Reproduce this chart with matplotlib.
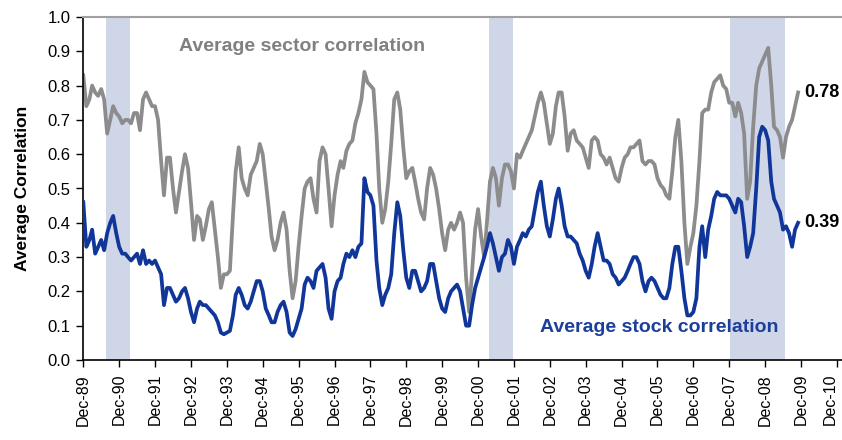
import numpy as np
import pandas as pd
import matplotlib
matplotlib.use("Agg")
import matplotlib.pyplot as plt
import matplotlib.transforms as mtransforms
from matplotlib.ticker import FormatStrFormatter

plt.rcParams['font.family'] = ['Liberation Sans', 'DejaVu Sans']

# monthly readings, Dec-89 .. Nov-09 (one row per year)
sector_corr = [
    0.83, 0.74, 0.76, 0.80, 0.78, 0.77, 0.79, 0.76, 0.66, 0.70, 0.74, 0.72,
    0.71, 0.69, 0.70, 0.70, 0.69, 0.72, 0.72, 0.67, 0.76, 0.78, 0.76, 0.74,
    0.74, 0.70, 0.58, 0.48, 0.59, 0.59, 0.50, 0.43, 0.49, 0.55, 0.60, 0.56,
    0.46, 0.35, 0.42, 0.41, 0.35, 0.39, 0.44, 0.46, 0.38, 0.30, 0.21, 0.25,
    0.25, 0.26, 0.42, 0.55, 0.62, 0.53, 0.50, 0.48, 0.54, 0.56, 0.58, 0.63,
    0.60, 0.52, 0.44, 0.36, 0.32, 0.35, 0.40, 0.43, 0.38, 0.26, 0.18, 0.23,
    0.33, 0.42, 0.50, 0.52, 0.53, 0.47, 0.43, 0.58, 0.62, 0.60, 0.50, 0.39,
    0.48, 0.54, 0.58, 0.56, 0.61, 0.63, 0.64, 0.69, 0.72, 0.76, 0.84, 0.81,
    0.80, 0.79, 0.66, 0.50, 0.40, 0.44, 0.52, 0.63, 0.76, 0.78, 0.73, 0.62,
    0.53, 0.55, 0.56, 0.52, 0.47, 0.43, 0.41, 0.50, 0.56, 0.54, 0.50, 0.44,
    0.37, 0.32, 0.38, 0.40, 0.38, 0.40, 0.43, 0.40, 0.24, 0.14, 0.26, 0.38,
    0.44, 0.36, 0.30, 0.40, 0.52, 0.56, 0.53, 0.45, 0.53, 0.57, 0.57, 0.55,
    0.50, 0.60, 0.59, 0.61, 0.63, 0.65, 0.67, 0.71, 0.75, 0.78, 0.75, 0.69,
    0.63, 0.66, 0.74, 0.78, 0.78, 0.71, 0.61, 0.66, 0.67, 0.64, 0.63, 0.62,
    0.59, 0.56, 0.64, 0.65, 0.64, 0.60, 0.59, 0.57, 0.59, 0.56, 0.53, 0.52,
    0.56, 0.59, 0.60, 0.62, 0.62, 0.63, 0.64, 0.58, 0.57, 0.58, 0.58, 0.57,
    0.53, 0.51, 0.50, 0.48, 0.47, 0.55, 0.65, 0.70, 0.58, 0.40, 0.28, 0.33,
    0.37, 0.45, 0.58, 0.72, 0.73, 0.73, 0.78, 0.81, 0.82, 0.83, 0.80, 0.79,
    0.75, 0.75, 0.71, 0.75, 0.72, 0.66, 0.47, 0.52, 0.68, 0.80, 0.85, 0.87,
    0.89, 0.91, 0.80, 0.68, 0.67, 0.65, 0.59, 0.65, 0.68, 0.70, 0.74, 0.78,
]

stock_corr = [
    0.46, 0.33, 0.35, 0.38, 0.31, 0.33, 0.35, 0.32, 0.37, 0.40, 0.42, 0.37,
    0.33, 0.31, 0.31, 0.30, 0.29, 0.30, 0.31, 0.28, 0.32, 0.28, 0.29, 0.28,
    0.29, 0.27, 0.25, 0.16, 0.21, 0.21, 0.19, 0.17, 0.18, 0.20, 0.21, 0.18,
    0.14, 0.11, 0.15, 0.17, 0.16, 0.16, 0.15, 0.14, 0.13, 0.11, 0.08, 0.075,
    0.08, 0.085, 0.13, 0.19, 0.21, 0.19, 0.16, 0.15, 0.17, 0.20, 0.23, 0.23,
    0.20, 0.15, 0.13, 0.11, 0.11, 0.14, 0.16, 0.17, 0.14, 0.08, 0.07, 0.09,
    0.12, 0.15, 0.22, 0.24, 0.23, 0.21, 0.26, 0.27, 0.28, 0.24, 0.15, 0.12,
    0.20, 0.23, 0.24, 0.28, 0.31, 0.30, 0.32, 0.30, 0.33, 0.34, 0.53, 0.49,
    0.48, 0.45, 0.29, 0.21, 0.16, 0.19, 0.21, 0.25, 0.37, 0.46, 0.42, 0.32,
    0.24, 0.21, 0.26, 0.26, 0.23, 0.20, 0.21, 0.23, 0.28, 0.28, 0.23, 0.18,
    0.15, 0.14, 0.18, 0.20, 0.21, 0.22, 0.20, 0.15, 0.10, 0.10, 0.16, 0.21,
    0.24, 0.27, 0.30, 0.33, 0.37, 0.34, 0.30, 0.26, 0.30, 0.31, 0.35, 0.33,
    0.28, 0.33, 0.35, 0.37, 0.36, 0.38, 0.39, 0.44, 0.49, 0.52, 0.45, 0.39,
    0.36, 0.41, 0.47, 0.50, 0.45, 0.39, 0.36, 0.36, 0.35, 0.34, 0.31, 0.29,
    0.26, 0.24, 0.28, 0.33, 0.37, 0.33, 0.29, 0.29, 0.28, 0.25, 0.24, 0.22,
    0.23, 0.24, 0.26, 0.28, 0.30, 0.30, 0.28, 0.23, 0.20, 0.23, 0.24, 0.23,
    0.21, 0.19, 0.18, 0.18, 0.21, 0.28, 0.33, 0.33, 0.26, 0.18, 0.13, 0.13,
    0.14, 0.18, 0.33, 0.39, 0.30, 0.38, 0.42, 0.47, 0.49, 0.48, 0.48, 0.48,
    0.47, 0.45, 0.43, 0.47, 0.46, 0.39, 0.30, 0.33, 0.37, 0.50, 0.65, 0.68,
    0.67, 0.64, 0.52, 0.47, 0.45, 0.43, 0.38, 0.39, 0.37, 0.33, 0.38, 0.40,
]

recessions = [("1990-07-20", "1991-03-20"),
              ("2001-03-22", "2001-11-18"),
              ("2007-12-10", "2009-06-20")]

tick_years = list(range(1989, 2011))
end_labels = ["0.78", "0.39"]

dates = pd.date_range("1989-12-01", periods=len(sector_corr), freq="MS")

gray = "#8c8c8c"
blue = "#10369a"

fig = plt.figure(figsize=(8.42, 4.40), dpi=100)
ax = fig.add_axes([83.3 / 842, 1 - 360 / 440, (842 - 83.3) / 842, (360 - 17) / 440])

for a, b in recessions:
    ax.axvspan(pd.Timestamp(a), pd.Timestamp(b), color="#cfd6e8", lw=0, zorder=0)

ax.plot(dates, sector_corr, color=gray, lw=2.7, zorder=2)
ax.plot(dates, stock_corr, color=blue, lw=2.7, zorder=3)

ax.set_ylim(0, 1.0)
ax.set_xlim(pd.Timestamp("1989-12-01"), pd.Timestamp("2011-01-22"))
ax.set_yticks(np.arange(0, 1.01, 0.1))
ax.yaxis.set_major_formatter(FormatStrFormatter("%.1f"))

ticks = [pd.Timestamp(f"{y}-12-01") for y in tick_years]
ax.set_xticks(ticks)
ax.set_xticklabels([f"Dec-{y % 100:02d}" for y in tick_years], rotation=90)

ax.tick_params(axis="both", direction="out", length=5, width=1, labelsize=12, colors="black")
ax.tick_params(axis="x", pad=5, labelsize=11.5)
ax.tick_params(axis="y", pad=4)

# last label sits right at the figure edge; nudge it in a little
last = ax.get_xticklabels()[-1]
last.set_transform(last.get_transform() +
                   mtransforms.ScaledTranslation(-5 / 72, 0, fig.dpi_scale_trans))

ax.spines["right"].set_visible(False)
ax.spines["top"].set_color("#a0a0a0")
ax.spines["top"].set_linewidth(1.5)
ax.spines["left"].set_linewidth(1.2)
ax.spines["bottom"].set_linewidth(1.2)

ax.set_ylabel("Average Correlation", fontsize=12.5, fontweight="bold", labelpad=13)

ax.text(pd.Timestamp("1992-08-01"), 0.915, "Average sector correlation", color="#808080",
        fontsize=14, fontweight="bold", va="center", ha="left")
ax.text(pd.Timestamp("2002-08-20"), 0.095, "Average stock correlation", color="#1c3f9a",
        fontsize=14, fontweight="bold", va="center", ha="left")

ax.text(dates[-1] + pd.Timedelta(days=60), sector_corr[-1], end_labels[0], fontsize=13,
        fontweight="bold", va="center", ha="left", clip_on=False)
ax.text(dates[-1] + pd.Timedelta(days=60), stock_corr[-1], end_labels[1], fontsize=13,
        fontweight="bold", va="center", ha="left", clip_on=False)

fig.savefig("out.png", dpi=100)
